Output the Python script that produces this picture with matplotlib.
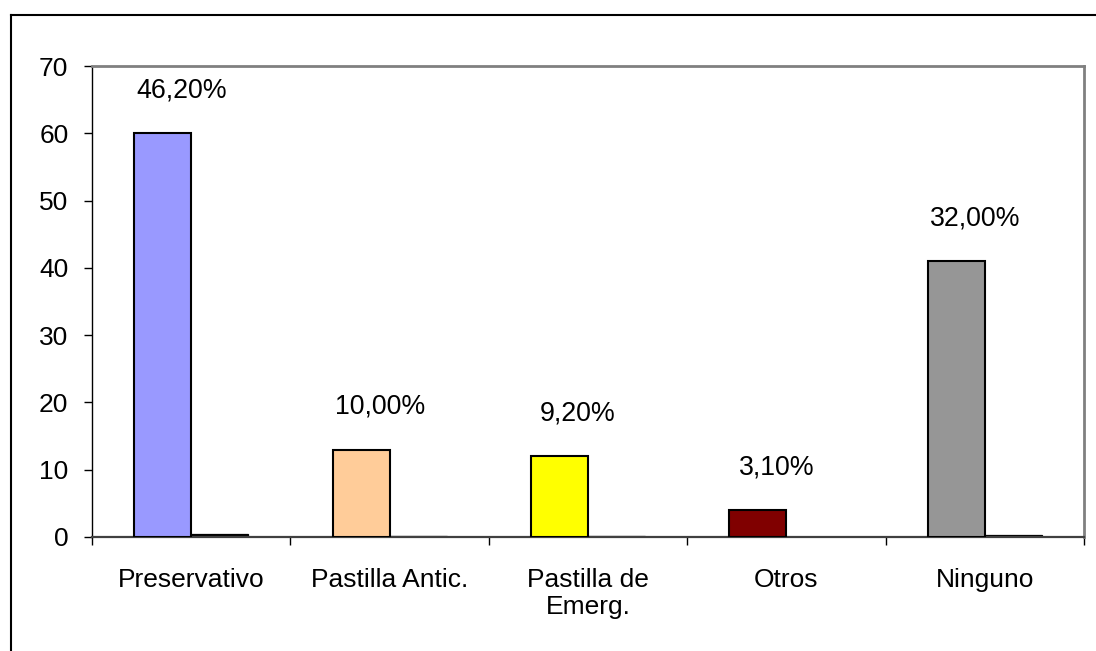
import matplotlib
matplotlib.use("Agg")
import matplotlib.pyplot as plt
from matplotlib.lines import Line2D
import numpy as np

categories = ["Preservativo", "Pastilla Antic.", "Pastilla de\nEmerg.", "Otros", "Ninguno"]
counts = [60, 13, 12, 4, 41]
shares = [0.462, 0.100, 0.092, 0.031, 0.320]
share_labels = ["46,20%", "10,00%", "9,20%", "3,10%", "32,00%"]
bar_colors = ["#9999FF", "#FFCC99", "#FFFF00", "#800000", "#969696"]
yticks = [0, 10, 20, 30, 40, 50, 60, 70]

plt.rcParams['font.family'] = ['Liberation Sans', 'DejaVu Sans']

fig = plt.figure(figsize=(10.96, 6.51), dpi=100)
ax = fig.add_axes([92/1096, 114/651, (1084-92)/1096, (537-66)/651])

x = np.arange(len(categories))
w = 0.287
ax.bar(x - w/2, counts, w, color=bar_colors, edgecolor="black", linewidth=1.5, zorder=3)
# second series: percentages, nearly flat on the axis
ax.bar(x + w/2, shares, w, color="black", edgecolor="black", linewidth=0.9, zorder=2)

# percentage labels over each group
for xi, c, lab in zip(x, counts, share_labels):
    ax.annotate(lab, (xi - 0.05, c), xytext=(0, 31), textcoords="offset points",
                ha="center", va="center", fontsize=19.3)

ax.set_xlim(-0.5, len(categories) - 0.5)
ax.set_ylim(0, 70)
ax.set_yticks(yticks)
ax.tick_params(axis="y", direction="out", length=6, width=1, pad=11, labelsize=19)

ax.set_xticks(x)
ax.set_xticklabels(categories)
ax.set_xticks(np.arange(len(categories) + 1) - 0.5, minor=True)
ax.tick_params(axis="x", which="major", length=0, pad=22, labelsize=19)
ax.tick_params(axis="x", which="minor", direction="out", length=6, width=1)

for s in ["top", "right"]:
    ax.spines[s].set_color("#808080")
    ax.spines[s].set_linewidth(2)
ax.spines["left"].set_color("black")
ax.spines["left"].set_linewidth(1)
ax.spines["bottom"].set_color("#404040")
ax.spines["bottom"].set_linewidth(1.6)

# outer chart border (only left and top visible)
bx = 11/1096
by = 1 - 15/651
fig.add_artist(Line2D([bx, bx], [0, by], color="black", linewidth=1.5, transform=fig.transFigure))
fig.add_artist(Line2D([bx, 1], [by, by], color="black", linewidth=1.5, transform=fig.transFigure))

fig.savefig("out.png", dpi=100)
